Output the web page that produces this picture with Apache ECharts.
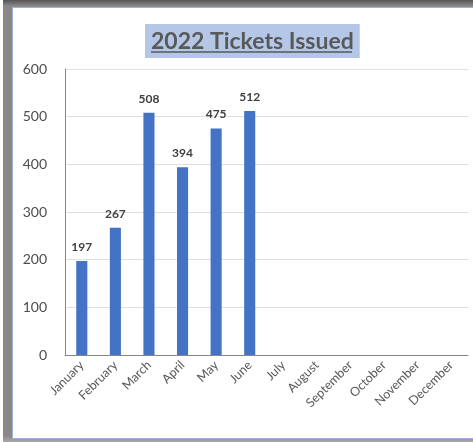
<!DOCTYPE html>
<html>
<head>
<meta charset="utf-8">
<script src="https://cdn.jsdelivr.net/npm/echarts@6/dist/echarts.min.js"></script>
<style>
    html, body { margin: 0; padding: 0; background: #fff; width: 473px; height: 442px; overflow: hidden; }
    #frame { position: absolute; left: 3px; top: 0; width: 480px; height: 442px;
        background: linear-gradient(to bottom, #555 0px, #888 6px, #888 436px, #aaa 442px); }
    #chart { position: absolute; left: 12px; top: 7px; width: 461px; height: 430px;
        border-left: 1px solid #9db3dc; border-top: 1px solid #9db3dc; border-bottom: 1px solid #9db3dc; background: #fff; }
</style>
</head>
<body>
<div id="frame"></div>
<div id="chart"></div>
<script>
const months = ['January', 'February', 'March', 'April', 'May', 'June',
    'July', 'August', 'September', 'October', 'November', 'December'];
const tickets = [197, 267, 508, 394, 475, 512, null, null, null, null, null, null];
const yTicks = [0, 100, 200, 300, 400, 500, 600];

const chart = echarts.init(document.getElementById('chart'));

chart.setOption({
    animation: false,
    textStyle: { fontFamily: 'Lato' },
    title: {
        text: '2022 Tickets Issued',
        left: 132,
        top: 16,
        padding: [6, 6, 5, 6],
        backgroundColor: '#b4c7e7',
        textStyle: { fontFamily: 'Lato', fontSize: 23, fontWeight: 'bold', color: '#595959' }
    },
    graphic: [{
        type: 'line',
        z: 100,
        zlevel: 1,
        shape: { x1: 138, y1: 44, x2: 339, y2: 44 },
        style: { stroke: '#595959', lineWidth: 1.5 }
    }],
    grid: { left: 52, right: 6, top: 61, bottom: 83 },
    xAxis: {
        type: 'category',
        data: months,
        axisLine: { lineStyle: { color: '#868686' } },
        axisTick: { show: false },
        axisLabel: { rotate: 45, color: '#595959', fontSize: 12.5, interval: 0, margin: 8 }
    },
    yAxis: {
        type: 'value',
        min: yTicks[0],
        max: yTicks[yTicks.length - 1],
        interval: 100,
        axisLine: { show: true, lineStyle: { color: '#868686' } },
        axisLabel: { color: '#4d4d4d', fontSize: 14, margin: 18 },
        splitLine: { lineStyle: { color: '#e0e0e0' } }
    },
    series: [{
        type: 'bar',
        data: tickets,
        barWidth: '33%',
        itemStyle: { color: '#4472c4' },
        label: {
            show: true,
            position: 'top',
            distance: 8,
            color: '#404040',
            fontSize: 12,
            fontWeight: 'bold'
        }
    }]
});
</script>
</body>
</html>
